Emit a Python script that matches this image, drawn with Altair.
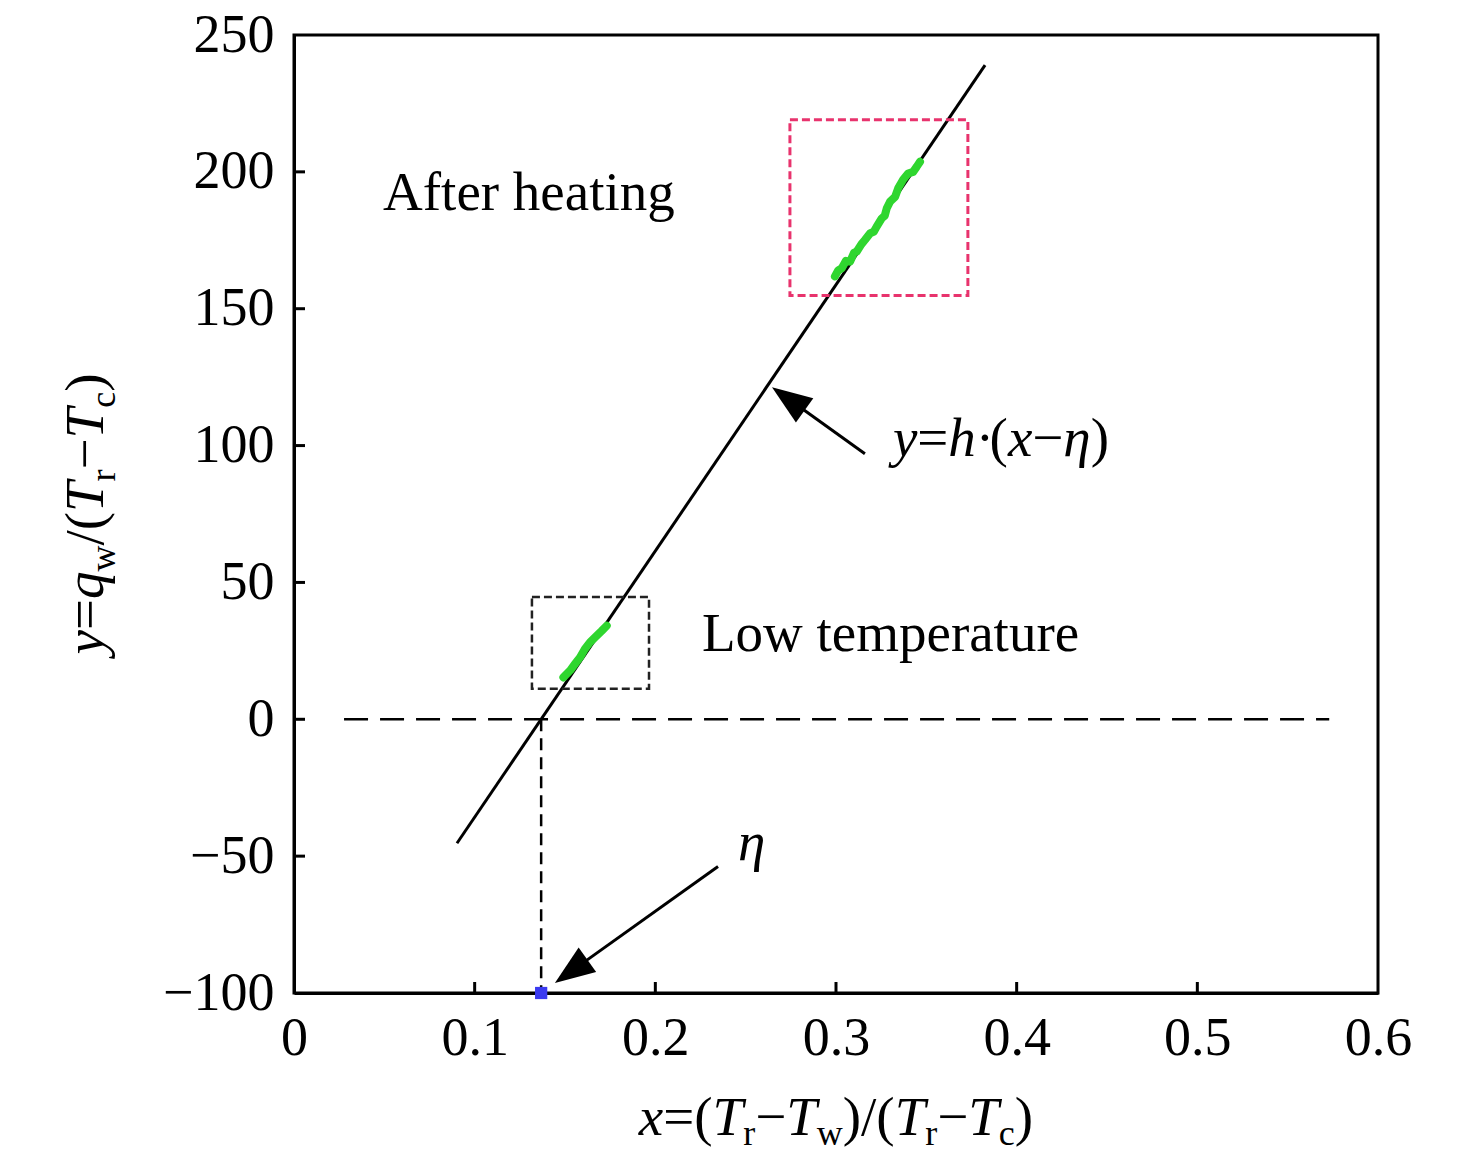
import altair as alt
import pandas as pd

# ---------------- data ----------------
fit_x = [0.0902, 0.3825]
fit_y = [-45.3, 239.0]

hot_x = [0.2994, 0.3012, 0.3032, 0.3055, 0.3078, 0.3100, 0.3115, 0.3140, 0.3161, 0.3188,
         0.3210, 0.3225, 0.3253, 0.3270, 0.3281, 0.3299, 0.3327, 0.3344, 0.3372, 0.3399,
         0.3427, 0.3447, 0.3465]
hot_y = [161.8, 164.0, 164.8, 167.5, 167.2, 170.5, 170.9, 173.5, 175.2, 177.5,
         178.2, 180.0, 183.0, 184.0, 186.7, 189.1, 190.9, 194.0, 197.2, 199.4,
         200.0, 201.9, 203.7]

cold_x = [0.1491, 0.1528, 0.1555, 0.1583, 0.1610, 0.1638, 0.1666, 0.1703, 0.1731]
cold_y = [15.3, 17.8, 20.2, 22.6, 25.7, 28.1, 29.9, 32.3, 34.2]

box_x1 = [0.2745, 0.1317]
box_x2 = [0.3730, 0.1965]
box_y1 = [154.8, 11.2]
box_y2 = [219.0, 44.7]

eta = 0.1368
zero_x = [0.0277, 0.5730]

arrow_tail_x = [0.3160, 0.2347]
arrow_tail_y = [97.0, -53.8]
arrow_head_x = [0.2736, 0.1534]
arrow_head_y = [117.1, -92.1]

x_ticks = [0.1, 0.2, 0.3, 0.4, 0.5]
y_ticks = [-50, 0, 50, 100, 150, 200]
x_labels = [0, 0.1, 0.2, 0.3, 0.4, 0.5, 0.6]
y_labels = [-100, -50, 0, 50, 100, 150, 200, 250]

label_after = ("After heating", 0.0493, 186.1)
label_low = ("Low temperature", 0.2258, 25.0)
label_eq_pos = (0.3315, 96.1)
label_eta_pos = (0.2457, -51.5)

# ---------------- styling ----------------
W, H = 1084, 958
FONT = "Liberation Serif"
FS = 55
SUB_FS = 36

xs = alt.Scale(domain=[0, 0.6], nice=False, zero=False)
ys = alt.Scale(domain=[-100, 250], nice=False, zero=False)

one = pd.DataFrame({"k": [0]})

REG = {'=': 564, '(': 333, ')': 333, '/': 278, '\u2212': 564, 'r': 333, 'w': 722,
       'c': 444, '\u00b7': 250, ' ': 250}
ITA = {'x': 444, 'y': 444, 'T': 556, 'q': 500, 'h': 500, '\u03b7': 500}


def pw(text, kind):
    if kind == 'i':
        return sum(ITA.get(c, 500) for c in text) * FS / 1000
    if kind == 's':
        return sum(REG.get(c, 500) for c in text) * SUB_FS / 1000
    return sum(REG.get(c, 500) for c in text) * FS / 1000


def rich(pieces, mode, x0, y0, center=True, sub_shift=10):
    total = sum(pw(t, k) for t, k in pieces)
    off = -total / 2 if center else 0.0
    out = []
    for t, k in pieces:
        kw = dict(text=t, font=FONT, color="black", align="left", baseline="alphabetic",
                  fontSize=SUB_FS if k == 's' else FS,
                  fontStyle="italic" if k == 'i' else "normal")
        shift = sub_shift if k == 's' else 0
        if mode == "h":
            ch = alt.Chart(one).mark_text(**kw).encode(
                x=alt.value(x0 + off), y=alt.value(y0 + shift))
        elif mode == "v":
            ch = alt.Chart(one).mark_text(angle=270, **kw).encode(
                x=alt.value(x0 + shift), y=alt.value(y0 - off))
        else:  # data anchored
            ch = alt.Chart(one).mark_text(dx=off, dy=shift, **kw).encode(
                x=alt.datum(x0, scale=xs), y=alt.datum(y0, scale=ys))
        out.append(ch)
        off += pw(t, k)
    return out


layers = []

# base with axes
base = alt.Chart(pd.DataFrame({"x": fit_x, "y": fit_y})).mark_line(
    color="black", strokeWidth=3).encode(
    x=alt.X("x:Q", scale=xs, title=None,
            axis=alt.Axis(values=x_labels, format=".1~f", labelFlush=False,
                          labelPadding=18)),
    y=alt.Y("y:Q", scale=ys, title=None,
            axis=alt.Axis(values=y_labels, format="d", labelPadding=20)),
)
layers.append(base)

# zero dashed line
layers.append(alt.Chart(pd.DataFrame({"x": [zero_x[0]], "x2": [zero_x[1]], "y": [0]}))
              .mark_rule(color="black", strokeWidth=2.5, strokeDash=[24, 12])
              .encode(x=alt.X("x:Q", scale=xs), x2="x2:Q", y=alt.Y("y:Q", scale=ys)))
# vertical dashed line at eta
layers.append(alt.Chart(pd.DataFrame({"x": [eta], "y": [0], "y2": [-100]}))
              .mark_rule(color="black", strokeWidth=2.5, strokeDash=[12, 7])
              .encode(x=alt.X("x:Q", scale=xs), y=alt.Y("y:Q", scale=ys), y2="y2:Q"))

# boxes
layers.append(alt.Chart(pd.DataFrame({"x": [box_x1[0]], "x2": [box_x2[0]], "y": [box_y1[0]], "y2": [box_y2[0]]}))
              .mark_rect(fillOpacity=0, stroke="#e8336d", strokeWidth=3, strokeDash=[8, 4])
              .encode(x=alt.X("x:Q", scale=xs), x2="x2:Q", y=alt.Y("y:Q", scale=ys), y2="y2:Q"))
layers.append(alt.Chart(pd.DataFrame({"x": [box_x1[1]], "x2": [box_x2[1]], "y": [box_y1[1]], "y2": [box_y2[1]]}))
              .mark_rect(fillOpacity=0, stroke="#222222", strokeWidth=2.5, strokeDash=[8, 4])
              .encode(x=alt.X("x:Q", scale=xs), x2="x2:Q", y=alt.Y("y:Q", scale=ys), y2="y2:Q"))

# green data
for gx, gy in [(hot_x, hot_y), (cold_x, cold_y)]:
    df = pd.DataFrame({"x": gx, "y": gy, "i": list(range(len(gx)))})
    layers.append(alt.Chart(df).mark_line(color="#2fd62f", strokeWidth=8, strokeJoin="round",
                                          strokeCap="round")
                  .encode(x=alt.X("x:Q", scale=xs), y=alt.Y("y:Q", scale=ys), order="i:Q"))

# arrows
arr = pd.DataFrame({"x": arrow_tail_x, "y": arrow_tail_y, "x2": arrow_head_x, "y2": arrow_head_y})
layers.append(alt.Chart(arr).mark_rule(color="black", strokeWidth=3)
              .encode(x=alt.X("x:Q", scale=xs), y=alt.Y("y:Q", scale=ys), x2="x2:Q", y2="y2:Q"))
for i, ang in enumerate([305.4, 234.3]):
    layers.append(alt.Chart(pd.DataFrame({"x": [arrow_head_x[i]], "y": [arrow_head_y[i]]}))
                  .mark_point(shape="M0,-1L0.75,1L-0.75,1Z", filled=True, size=1600,
                              color="black", opacity=1, angle=ang)
                  .encode(x=alt.X("x:Q", scale=xs), y=alt.Y("y:Q", scale=ys)))

# eta marker
layers.append(alt.Chart(pd.DataFrame({"x": [eta], "y": [-100]}))
              .mark_point(shape="square", filled=True, size=150, color="#3a3af0", opacity=1)
              .encode(x=alt.X("x:Q", scale=xs), y=alt.Y("y:Q", scale=ys)))

# inward ticks
layers.append(alt.Chart(pd.DataFrame({"x": x_ticks}))
              .mark_rule(color="black", strokeWidth=3)
              .encode(x=alt.X("x:Q", scale=xs), y=alt.value(H), y2=alt.value(H - 11)))
layers.append(alt.Chart(pd.DataFrame({"y": y_ticks}))
              .mark_rule(color="black", strokeWidth=3)
              .encode(y=alt.Y("y:Q", scale=ys), x=alt.value(0), x2=alt.value(11)))

# text labels
for txt, tx, ty in [label_after, label_low]:
    layers.append(alt.Chart(one).mark_text(text=txt, font=FONT, fontSize=FS, color="black",
                                           align="left", baseline="alphabetic")
                  .encode(x=alt.datum(tx, scale=xs), y=alt.datum(ty, scale=ys)))

layers += rich([("y", 'i'), ("=", 'r'), ("h", 'i'), ("\u00b7", 'r'), ("(", 'r'), ("x", 'i'),
                ("\u2212", 'r'), ("\u03b7", 'i'), (")", 'r')],
               "d", label_eq_pos[0], label_eq_pos[1], center=False)
layers += rich([("\u03b7", 'i')], "d", label_eta_pos[0], label_eta_pos[1], center=False)

# axis titles
layers += rich([("x", 'i'), ("=(", 'r'), ("T", 'i'), ("r", 's'), ("\u2212", 'r'), ("T", 'i'),
                ("w", 's'), (")/(", 'r'), ("T", 'i'), ("r", 's'), ("\u2212", 'r'), ("T", 'i'),
                ("c", 's'), (")", 'r')],
               "h", 542, 1100, center=True, sub_shift=10)
layers += rich([("y", 'i'), ("=", 'r'), ("q", 'i'), ("w", 's'), ("/(", 'r'), ("T", 'i'),
                ("r", 's'), ("\u2212", 'r'), ("T", 'i'), ("c", 's'), (")", 'r')],
               "v", -191, 479, center=True, sub_shift=12)

chart = alt.layer(*layers).properties(
    width=W, height=H,
    padding={"left": 286, "top": 27, "right": 90, "bottom": 160},
    autosize=alt.AutoSizeParams(type="none"),
    background="white",
).configure_view(stroke="black", strokeWidth=3).configure_axis(
    grid=False, ticks=False, domainColor="black", domainWidth=3,
    labelFont=FONT, labelFontSize=54, labelColor="black", labelOverlap=False,
)

chart.save("out.html", embed_options={"renderer": "svg", "actions": False})
